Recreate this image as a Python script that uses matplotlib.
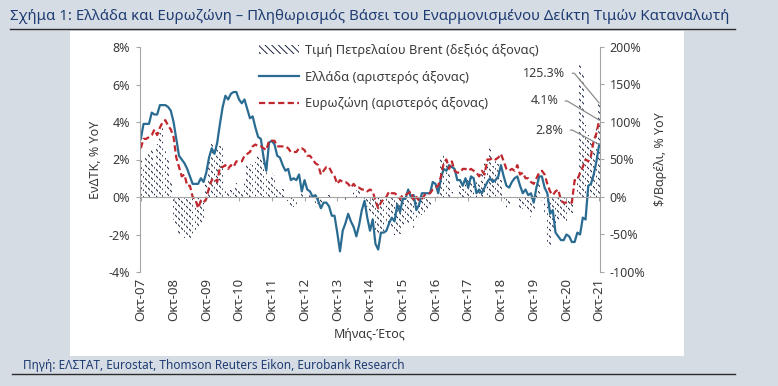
import numpy as np
import matplotlib
matplotlib.use("Agg")
import matplotlib.pyplot as plt
from matplotlib.patches import Rectangle
from matplotlib.lines import Line2D

plt.rcParams['font.family'] = ['Noto Sans', 'DejaVu Sans']
plt.rcParams['hatch.linewidth'] = 0.7

# monthly data, Oct-2007 .. Oct-2021
greece = [3.1, 3.9, 3.9,
          3.9, 4.5, 4.4, 4.4, 4.9, 4.9, 4.9, 4.8, 4.6, 4.0, 3.1, 2.2,
          2.0, 1.8, 1.5, 1.1, 0.7, 0.7, 0.7, 1.0, 0.8, 1.3, 2.1, 2.6,
          2.3, 2.9, 3.9, 4.8, 5.4, 5.2, 5.5, 5.6, 5.6, 5.2, 5.0, 5.2,
          4.7, 4.2, 4.3, 3.7, 3.2, 3.1, 2.1, 1.4, 2.9, 3.0, 2.8, 2.2,
          2.1, 1.7, 1.4, 1.5, 0.9, 1.0, 0.9, 1.2, 0.3, 0.9, 0.4, 0.3,
          0.0, 0.1, -0.2, -0.6, -0.3, -0.3, -0.5, -1.0, -1.0, -1.9, -2.9, -1.8,
          -1.4, -0.9, -1.3, -1.6, -2.1, -1.5, -0.7, -0.2, -1.1, -1.8, -1.2, -2.5,
          -2.8, -1.9, -1.9, -1.8, -1.4, -1.1, -1.3, -0.4, -0.8, -0.1, -0.1, 0.4,
          0.0, 0.1, -0.7, -0.4, 0.2, 0.2, 0.2, 0.2, 0.8, 0.7, 0.2, 1.0,
          1.5, 1.4, 1.7, 1.6, 1.5, 0.9, 0.9, 0.6, 1.0, 0.5, 1.1, 1.0,
          0.2, 0.4, 0.2, 0.5, 0.8, 1.0, 0.8, 0.9, 1.1, 1.7, 1.1, 0.6,
          0.5, 0.8, 1.0, 1.1, 0.6, 0.2, 0.4, 0.1, 0.2, -0.3, 0.5, 1.1,
          1.1, 0.5, 0.2, -0.9, -0.7, -1.9, -2.1, -2.3, -2.3, -2.0, -2.1, -2.4,
          -2.4, -1.9, -2.0, -1.1, -1.2, 0.6, 0.7, 1.2, 1.9, 2.8]

eurozone = [2.6, 3.1, 3.1,
            3.2, 3.3, 3.6, 3.3, 3.7, 4.0, 4.1, 3.8, 3.6, 3.2, 2.1, 1.6,
            1.1, 1.2, 0.6, 0.6, 0.0, -0.1, -0.6, -0.2, -0.3, -0.1, 0.5, 0.9,
            1.0, 0.8, 1.6, 1.6, 1.7, 1.5, 1.7, 1.6, 1.9, 1.9, 1.9, 2.2,
            2.3, 2.4, 2.7, 2.8, 2.7, 2.7, 2.6, 2.5, 3.0, 3.0, 3.0, 2.7,
            2.7, 2.7, 2.7, 2.6, 2.4, 2.4, 2.4, 2.6, 2.6, 2.5, 2.2, 2.2,
            2.0, 1.8, 1.7, 1.2, 1.4, 1.6, 1.6, 1.3, 1.1, 0.7, 0.9, 0.8,
            0.8, 0.7, 0.5, 0.7, 0.5, 0.5, 0.4, 0.4, 0.3, 0.4, 0.3, -0.2,
            -0.6, -0.3, -0.1, 0.0, 0.3, 0.2, 0.2, 0.1, -0.1, 0.1, 0.1, 0.2,
            0.3, -0.2, 0.0, -0.2, -0.1, 0.1, 0.2, 0.2, 0.4, 0.5, 0.6, 1.1,
            1.8, 2.0, 1.5, 1.9, 1.4, 1.3, 1.3, 1.5, 1.5, 1.4, 1.5, 1.4,
            1.3, 1.1, 1.4, 1.2, 2.0, 2.0, 2.1, 2.0, 2.1, 2.3, 1.9, 1.5,
            1.4, 1.5, 1.4, 1.7, 1.2, 1.3, 1.0, 1.0, 0.8, 0.7, 1.0, 1.3,
            1.4, 1.2, 0.7, 0.3, 0.1, 0.3, 0.4, -0.2, -0.3, -0.3, -0.3, -0.3,
            0.9, 0.9, 1.3, 1.6, 2.0, 1.9, 2.2, 3.0, 3.4, 4.1]

brent = [51, 42, 54,
         61, 62, 47, 71, 85, 96, 61, 55, 24, -31, -40, -51,
         -50, -55, -51, -55, -49, -50, -42, -39, -30, 18, 47, 71,
         55, 71, 68, 69, 13, 8, 9, 11, 19, 8, 9, 22,
         42, 44, 42, 46, 58, 50, 50, 49, 25, 32, 29, 13,
         10, 10, 5, -5, -12, -13, -10, 0, 9, -1, 1, 3,
         4, -9, -10, -14, -2, 4, 3, 0, -4, 0, 0, 0,
         -8, -2, -2, 6, 9, 10, -2, -9, -13, -21, -37, -48,
         -50, -43, -49, -38, -40, -43, -51, -48, -49, -42, -36, -35,
         -34, -43, -28, -28, -24, -22, -19, -13, 1, -3, 13, 52,
         60, 55, 33, 7, 1, -4, 24, 11, 17, 27, 26, 18,
         24, 18, 33, 45, 54, 66, 41, 48, 44, 23, -8, -20,
         -10, 0, -3, -3, -17, -16, -12, -22, -27, -20, 6, 23,
         -6, -23, -67, -65, -45, -38, -34, -25, -33, -38, -23, -22,
         -4, 31, 179, 166, 96, 83, 76, 61, 92, 125.3]

tick_labels = ['Οκτ-07', 'Οκτ-08', 'Οκτ-09', 'Οκτ-10', 'Οκτ-11', 'Οκτ-12', 'Οκτ-13', 'Οκτ-14',
               'Οκτ-15', 'Οκτ-16', 'Οκτ-17', 'Οκτ-18', 'Οκτ-19', 'Οκτ-20', 'Οκτ-21']

title = 'Σχήμα 1: Ελλάδα και Ευρωζώνη – Πληθωρισμός Βάσει του Εναρμονισμένου Δείκτη Τιμών Καταναλωτή'
source = 'Πηγή: ΕΛΣΤΑΤ, Eurostat, Thomson Reuters Eikon, Eurobank Research'

navy = '#1f3d73'
blue = '#2a6b92'
red = '#c0282e'
grey = '#a6a6a6'
txt = '#3a3a3a'

W, H = 778, 386
fig = plt.figure(figsize=(W / 100, H / 100), dpi=100, facecolor='#d5dce4')
fig.patches.append(Rectangle((70 / W, 1 - 356 / H), 614 / W, 325 / H,
                             transform=fig.transFigure, facecolor='white',
                             edgecolor='none', zorder=-5))
fig.text(10 / W, 1 - 17 / H, title, color=navy, fontsize=10.8, va='center')
fig.add_artist(Line2D([10 / W, 735 / W], [1 - 29 / H] * 2, color='#2b2b2b', lw=1))
fig.text(23 / W, 1 - 366 / H, source, color=navy, fontsize=8.5, va='center')
fig.add_artist(Line2D([12 / W, 735 / W], [1 - 374 / H] * 2, color='#2b2b2b', lw=1))

x = np.arange(len(greece))

ax = fig.add_axes([140 / W, 1 - 272 / H, 460 / W, 225 / H])
ax2 = ax.twinx()
ax.set_zorder(ax2.get_zorder() + 1)
ax.patch.set_visible(False)
ax2.patch.set_visible(False)

bars = ax2.bar(x, brent, width=0.6, color='white', edgecolor='#17223d',
               linewidth=0, hatch='\\\\\\\\\\', label='Τιμή Πετρελαίου Brent (δεξιός άξονας)')
ax.plot(x, greece, color=blue, lw=1.6, label='Ελλάδα (αριστερός άξονας)')
ax.plot(x, eurozone, color=red, lw=1.6, dashes=(2.8, 1.5), label='Ευρωζώνη (αριστερός άξονας)')

ax.set_xlim(-0.3, len(greece) - 0.7)
ax.set_ylim(-4, 8)
ax2.set_ylim(-100, 200)
ax.set_yticks(np.arange(-4, 9, 2))
ax.set_yticklabels([f'{v}%' for v in range(-4, 9, 2)])
ax2.set_yticks(np.arange(-100, 201, 50))
ax2.set_yticklabels([f'{v}%' for v in range(-100, 201, 50)])

year_ticks = x[::12]
ax.spines['bottom'].set_position(('data', 0))
ax.set_xticks(year_ticks)
ax.tick_params(axis='x', length=3, color=grey, labelbottom=False)
secax = ax.secondary_xaxis('bottom')
secax.set_xticks(year_ticks)
secax.set_xticklabels(tick_labels, rotation=90, fontsize=9.5, color=txt)
secax.tick_params(length=0, pad=4)
secax.spines['bottom'].set_visible(False)
secax.set_xlabel('Μήνας-Έτος', fontsize=9, color=txt, labelpad=5)

for a in (ax, ax2):
    a.spines['top'].set_visible(False)
    for s in a.spines.values():
        s.set_color(grey)
ax.spines['right'].set_visible(False)
ax2.spines['left'].set_visible(False)
ax2.spines['bottom'].set_visible(False)
ax.tick_params(axis='y', length=3, color=grey, labelsize=9, labelcolor=txt, pad=4)
ax2.tick_params(axis='y', length=3, color=grey, labelsize=9, labelcolor=txt, pad=4)
ax.set_ylabel('ΕνΔΤΚ, % YoY', fontsize=9, color=txt, labelpad=5)
ax2.set_ylabel('$/Βαρέλι, % YoY', fontsize=9, color=txt, labelpad=6)

lead = dict(arrowstyle='-', color='#8c8c8c', lw=0.9, relpos=(1, 0.5), shrinkA=3, shrinkB=0,
            connectionstyle='arc,angleA=0,angleB=0,armA=9,armB=0,rad=0')
last = len(greece) - 1
ax.annotate(f'{brent[-1]:.1f}%', xy=(last, brent[-1]), xycoords=ax2.transData,
            xytext=(155.6, 165), textcoords=ax2.transData, ha='right',
            va='center', fontsize=9, color=txt, arrowprops=lead)
ax.annotate(f'{eurozone[-1]:.1f}%', xy=(last, eurozone[-1]), xytext=(153, 5.12), ha='right',
            va='center', fontsize=9, color=txt, arrowprops=lead)
ax.annotate(f'{greece[-1]:.1f}%', xy=(last, greece[-1]), xytext=(154.9, 3.57), ha='right',
            va='center', fontsize=9, color=txt, arrowprops=lead)

h1, l1 = ax2.get_legend_handles_labels()
h2, l2 = ax.get_legend_handles_labels()
leg = ax.legend(h1 + h2, l1 + l2, loc='upper left', bbox_to_anchor=(0.234, 1.065),
                frameon=False, fontsize=9.2, handlelength=3.1, handletextpad=0.5,
                labelspacing=1.08, labelcolor=txt)

fig.savefig('out.png', dpi=100, facecolor=fig.get_facecolor())
